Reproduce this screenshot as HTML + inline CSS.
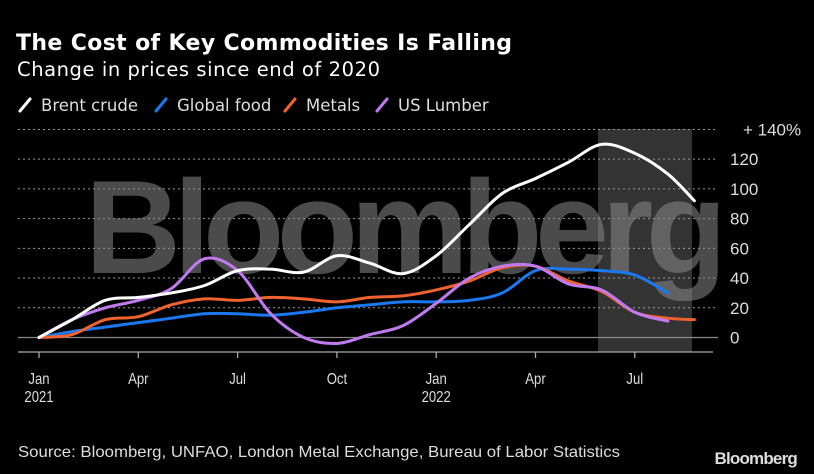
<!DOCTYPE html>
<html><head><meta charset="utf-8"><style>
html,body{margin:0;padding:0;background:#000;}
svg{display:block;}
</style></head><body>
<svg id="chart" width="814" height="474" viewBox="0 0 814 474" xmlns="http://www.w3.org/2000/svg">
<rect width="814" height="474" fill="#000"/>
<text x="16" y="50" fill="#fff" font-family="DejaVu Sans, sans-serif" font-weight="bold" font-size="22" textLength="496">The Cost of Key Commodities Is Falling</text>
<text x="17" y="76" fill="#fff" font-family="DejaVu Sans, sans-serif" font-size="19.5" textLength="363">Change in prices since end of 2020</text>
<g id="legend"></g>
<rect x="598" y="129" width="94" height="223" fill="#333"/>
<g id="grid"></g>
<text x="85" y="273" fill="#888" fill-opacity="0.55" font-family="Liberation Sans, sans-serif" font-weight="bold" font-size="133" textLength="642">Bloomberg</text>
<g id="series"></g>
<g id="xaxis"></g>
<text x="18" y="457" fill="#ddd" font-family="Liberation Sans, sans-serif" font-size="16" textLength="602" lengthAdjust="spacingAndGlyphs">Source: Bloomberg, UNFAO, London Metal Exchange, Bureau of Labor Statistics</text>
<text x="797" y="464" fill="#ddd" text-anchor="end" font-family="Liberation Sans, sans-serif" font-weight="bold" font-size="17" letter-spacing="-0.8">Bloomberg</text>
</svg>
<script>
const yTicks=[0,20,40,60,80,100,120,140];
const xTickMonths=[0,3,6,9,12,15,18];
const xTickLabels=["Jan","Apr","Jul","Oct","Jan","Apr","Jul"];
const xTickYears=["2021","","","","2022","",""];
const seriesNames=["Brent crude","Global food","Metals","US Lumber"];
const seriesColors=["#ffffff","#1a78f0","#f0622e","#c07af0"];
const brentMonths=[0,1,2,3,4,5,6,7,8,9,10,11,12,13,14,15,16,17,18,19,19.8];
const brent=[0,12,25,27,30,35,45,46,44,55,50,43,55,76,97,107,118,130,124,110,92];
const foodMonths=[0,1,2,3,4,5,6,7,8,9,10,11,12,13,14,15,16,17,18,19];
const food=[0,4,7,10,13,16,16,15,17,20,22,24,24,25,30,45,46,45,42,30];
const metalsMonths=[0,1,2,3,4,5,6,7,8,9,10,11,12,13,14,15,16,17,18,19,19.8];
const metals=[0,2,12,14,22,26,25,27,26,24,27,28,32,38,47,48,38,31,17,13,12];
const lumberMonths=[0,1,2,3,4,5,6,7,8,9,10,11,12,13,14,15,16,17,18,19];
const lumber=[0,12,20,25,33,53,45,16,0,-4,2,8,23,40,48,48,36,32,17,11];

const NS="http://www.w3.org/2000/svg";
const xS=m=>39+m*33.1;
const yS=v=>337.5-v*1.486;
function mk(tag,attrs,parent){const e=document.createElementNS(NS,tag);for(const k in attrs)e.setAttribute(k,attrs[k]);parent.appendChild(e);return e;}
const grid=document.getElementById('grid');
yTicks.forEach((t,i)=>{
  const l=mk('line',{x1:18,x2:718,y1:yS(t),y2:yS(t),stroke:t===0?'#888':'#999','stroke-width':t===0?1.3:1,'stroke-dasharray':t===0?'':'2,3'},grid);
  
  
  const tx=mk('text',{x:730,y:yS(t)+6,fill:'#ddd','font-family':'Liberation Sans, sans-serif','font-size':17},grid);
  tx.textContent=(t===140?'+ 140%':String(t));
  if(t===140)tx.setAttribute('x',743);
  
  
});
const xa=document.getElementById('xaxis');
const axl=mk('line',{x1:18,x2:713,y1:352,y2:352,stroke:'#aaa','stroke-width':1.3},xa);


xTickMonths.forEach((m,i)=>{
  const x=xS(m);
  const tk=mk('line',{x1:x,x2:x,y1:352,y2:358,stroke:'#aaa','stroke-width':1.3},xa);
  
  
  const t=mk('text',{x:x,y:384,fill:'#ddd','text-anchor':'middle','font-family':'Liberation Sans, sans-serif','font-size':16,transform:`translate(${x},0) scale(0.82,1) translate(${-x},0)`},xa);
  t.textContent=xTickLabels[i];
  
  
  if(xTickYears[i]){
    const y=mk('text',{x:x,y:402,fill:'#ddd','text-anchor':'middle','font-family':'Liberation Sans, sans-serif','font-size':16,transform:`translate(${x},0) scale(0.82,1) translate(${-x},0)`},xa);
    y.textContent=xTickYears[i];
    
    
  }
});
function smooth(pts){
  let d=`M${pts[0][0]},${pts[0][1]}`;
  for(let i=0;i<pts.length-1;i++){
    const p0=pts[i-1]||pts[i],p1=pts[i],p2=pts[i+1],p3=pts[i+2]||p2;
    const c1=[p1[0]+(p2[0]-p0[0])/6,p1[1]+(p2[1]-p0[1])/6];
    const c2=[p2[0]-(p3[0]-p1[0])/6,p2[1]-(p3[1]-p1[1])/6];
    d+=` C${c1[0]},${c1[1]} ${c2[0]},${c2[1]} ${p2[0]},${p2[1]}`;
  }
  return d;
}
const sg=document.getElementById('series');
const allData=[[foodMonths,food],[metalsMonths,metals],[lumberMonths,lumber],[brentMonths,brent]];
const order=[1,2,3,0];
allData.forEach(([ms,vs],k)=>{
  const idx=order[k];
  const p=mk('path',{d:smooth(ms.map((m,i)=>[xS(m),yS(vs[i])])),fill:'none',stroke:seriesColors[idx],'stroke-width':3,'stroke-linecap':'round','stroke-linejoin':'round'},sg);
  
  
});
const lg=document.getElementById('legend');
const lx=[18,154,283,375];
seriesNames.forEach((n,i)=>{
  const x=lx[i];
  const s=mk('line',{x1:x+2,y1:111,x2:x+12,y2:99,stroke:seriesColors[i],'stroke-width':3,'stroke-linecap':'round'},lg);
  
  
  const t=mk('text',{x:x+23,y:111,fill:'#ddd','font-family':'DejaVu Sans, sans-serif','font-size':16.5},lg);
  t.textContent=n;
  
  
});
</script>
</body></html>
